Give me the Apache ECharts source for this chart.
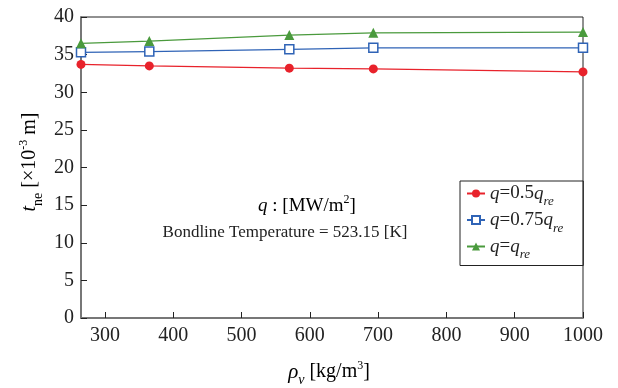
<!DOCTYPE html>
<html>
<head>
<meta charset="utf-8">
<script src="https://cdn.jsdelivr.net/npm/echarts@6/dist/echarts.min.js"></script>
<style>
  html, body { margin: 0; padding: 0; background: #fff; }
  #chart { width: 618px; height: 388px; }
</style>
</head>
<body>
<div id="chart"></div>
<script>
// density values (x) and thickness for each q level
const density = [265, 365, 570, 693, 1000];
const tHalf = [33.7, 33.5, 33.2, 33.1, 32.7];
const tThreeQuarter = [35.3, 35.4, 35.7, 35.9, 35.9];
const tFull = [36.5, 36.8, 37.6, 37.9, 38.0];
const xTicks = [300, 400, 500, 600, 700, 800, 900, 1000];

const seriesNames = ['half', 'threeQuarter', 'full'];
const legendLabels = {
    half: '{i|q}{n|=0.5}{i|q}{s|re}',
    threeQuarter: '{i|q}{n|=0.75}{i|q}{s|re}',
    full: '{i|q}{n|=}{i|q}{s|re}'
};

const FONT = '"Liberation Serif", "DejaVu Serif", serif';
const makeRich = (size) => ({
    n: { fontFamily: FONT, fontSize: size, color: '#222', lineHeight: 24, verticalAlign: 'middle' },
    i: { fontFamily: FONT, fontSize: size, fontStyle: 'italic', color: '#222', lineHeight: 24, verticalAlign: 'middle' },
    g: { fontFamily: FONT, fontSize: size + 1, fontStyle: 'italic', color: '#222', lineHeight: 24, verticalAlign: 'middle' },
    s: { fontFamily: FONT, fontSize: Math.round(size * 0.68), fontStyle: 'italic', color: '#222', lineHeight: 12, verticalAlign: 'bottom', padding: [0, 0, -3, 0] },
    r: { fontFamily: FONT, fontSize: Math.round(size * 0.68), color: '#222', lineHeight: 12, verticalAlign: 'bottom', padding: [0, 0, -3, 0] },
    p: { fontFamily: FONT, fontSize: Math.round(size * 0.62), color: '#222', lineHeight: 12, verticalAlign: 'top' }
});

const chart = echarts.init(document.getElementById('chart'));

const pair = (ys) => density.map((x, i) => [x, ys[i]]);

const option = {
    animation: false,
    grid: { left: 81, right: 35, top: 17, bottom: 70, show: true, borderColor: '#222', borderWidth: 1 },
    xAxis: {
        type: 'value',
        min: 265,
        max: 1000,
        axisLine: { show: true, lineStyle: { color: '#777', width: 2 } },
        axisTick: { show: true, inside: true, length: 6, lineStyle: { color: '#222' }, customValues: xTicks },
        splitLine: { show: false },
        axisLabel: {
            fontFamily: FONT, fontSize: 20, color: '#222', margin: 8,
            customValues: xTicks,
            formatter: (v) => String(v)
        }
    },
    yAxis: {
        type: 'value',
        min: 0,
        max: 40,
        interval: 5,
        axisLine: { show: true, lineStyle: { color: '#777', width: 2 } },
        axisTick: { show: true, inside: true, length: 6, lineStyle: { color: '#222' } },
        splitLine: { show: false },
        axisLabel: { fontFamily: FONT, fontSize: 20, color: '#222', margin: 7 }
    },
    legend: {
        data: seriesNames,
        orient: 'vertical',
        left: 460,
        top: 181,
        padding: [3, 20, 4, 6],
        itemGap: 2,
        itemWidth: 18,
        itemHeight: 10,
        borderColor: '#222',
        borderWidth: 1,
        formatter: (name) => legendLabels[name],
        textStyle: { rich: makeRich(19) }
    },
    graphic: [
        {
            type: 'text', x: 307, y: 206,
            style: { text: '{i|q}{n| : [MW/m}{p|2}{n|]}', rich: makeRich(19), align: 'center', verticalAlign: 'middle' }
        },
        {
            type: 'text', x: 285, y: 233,
            style: { text: 'Bondline Temperature = 523.15 [K]', fontFamily: FONT, fontSize: 17, fill: '#222', align: 'center', verticalAlign: 'middle' }
        },
        {
            type: 'text', x: 329, y: 372,
            style: { text: '{g|ρ}{s|v}{n| [kg/m}{p|3}{n|]}', rich: makeRich(20), align: 'center', verticalAlign: 'middle' }
        },
        {
            type: 'text', x: 30, y: 162, rotation: Math.PI / 2,
            style: { text: '{i|t}{r|ne}{n| [×10}{p|-3}{n| m]}', rich: makeRich(20), align: 'center', verticalAlign: 'middle' }
        }
    ],
    series: [
        {
            name: 'half', type: 'line', data: pair(tHalf),
            symbol: 'circle', symbolSize: 9,
            itemStyle: { color: '#e8222b' },
            lineStyle: { color: '#e8222b', width: 1.2 }
        },
        {
            name: 'threeQuarter', type: 'line', data: pair(tThreeQuarter),
            symbol: 'rect', symbolSize: 9,
            itemStyle: { color: '#fff', borderColor: '#2f63b6', borderWidth: 1.5 },
            lineStyle: { color: '#2f63b6', width: 1.2 }
        },
        {
            name: 'full', type: 'line', data: pair(tFull),
            symbol: 'triangle', symbolSize: 10,
            itemStyle: { color: '#4a9a3d' },
            lineStyle: { color: '#4a9a3d', width: 1.2 }
        }
    ]
};

chart.setOption(option);
</script>
</body>
</html>
